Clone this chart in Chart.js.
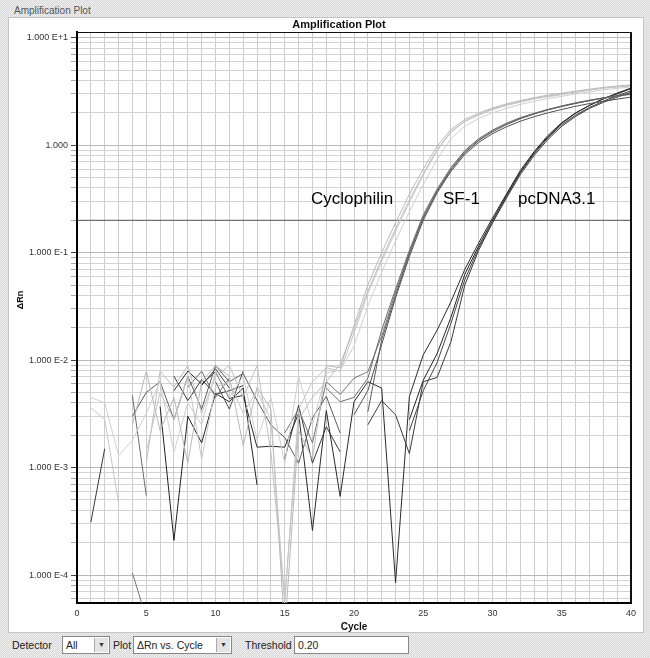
<!DOCTYPE html>
<html>
<head>
<meta charset="utf-8">
<title>Amplification Plot</title>
<script src="https://cdn.jsdelivr.net/npm/chart.js@4.4.0/dist/chart.umd.min.js"></script>
<style>
    html, body { margin: 0; padding: 0; }
    body {
        width: 650px; height: 658px; position: relative; overflow: hidden;
        font-family: "Liberation Sans", Arial, sans-serif;
        background: repeating-conic-gradient(#d6d6d6 0 25%, #f1f1f1 0 50%) 0 0 / 2px 2px;
    }
    #panelTitle { position: absolute; left: 14px; top: 5px; font-size: 10px; color: #555; }
    #panel { position: absolute; left: 8px; top: 17px; width: 634px; height: 614px; background: #fff; border: 1px solid #c4c4c4; }
    #chartBox { position: absolute; left: 0; top: 0; width: 650px; height: 633px; }
    .lbl { position: absolute; top: 639px; font-size: 10.5px; color: #222; }
    .box { position: absolute; top: 636px; height: 16px; background: #fff; border: 1px solid #888; font-size: 10.5px; line-height: 16px; color: #222; box-sizing: content-box; }
    .box span { padding-left: 3px; }
    .arrow { position: absolute; right: 1px; top: 1px; width: 13px; height: 14px; background: #e4e4e4; border-left: 1px solid #aaa; font-size: 7px; line-height: 14px; text-align: center; color: #333; }
</style>
</head>
<body>
<div id="panelTitle">Amplification Plot</div>
<div id="panel"></div>
<div id="chartBox"><canvas id="ampChart"></canvas></div>

<div class="lbl" style="left:12px;">Detector</div>
<div class="box" style="left:62px;width:46px;"><span>All</span><div class="arrow">▼</div></div>
<div class="lbl" style="left:113px;">Plot</div>
<div class="box" style="left:133px;width:97px;"><span>ΔRn vs. Cycle</span><div class="arrow">▼</div></div>
<div class="lbl" style="left:245px;">Threshold</div>
<div class="box" style="left:294px;width:113px;"><span>0.20</span></div>

<script>
// ---------------------------------------------------------------------------
// Data (ΔRn per cycle, log scale)
// null = negative / not drawable on the log axis
// ---------------------------------------------------------------------------
const cycles = [1, 2, 3, 4, 5, 6, 7, 8, 9, 10, 11, 12, 13, 14, 15, 16, 17, 18, 19, 20,
                21, 22, 23, 24, 25, 26, 27, 28, 29, 30, 31, 32, 33, 34, 35, 36, 37, 38, 39, 40];

const groupNames = ['Cyclophilin', 'SF-1', 'pcDNA3.1'];
const threshold = 0.20;

// Cyclophilin replicates
const cyclo1 = [0.0036, 0.0028, 0.00047, null, 0.0014, 0.005, 0.0028, 0.0071, 0.0012, 0.0056,
                0.0063, 0.0032, 0.0052, 0.0028, 0.000055, 0.0035, 0.0063, 0.0085, 0.0079, 0.0178,
                0.0417, 0.083, 0.158, 0.295, 0.525, 0.89, 1.32, 1.66, 1.9, 2.14,
                2.34, 2.51, 2.69, 2.82, 2.95, 3.09, 3.24, 3.39, 3.47, 3.55];
const cyclo2 = [null, null, null, 0.0025, 0.0079, 0.0022, 0.0045, 0.0011, 0.0063, 0.0089,
                0.0071, 0.0016, 0.0056, 0.0035, 0.00003, 0.0022, 0.0012, 0.0089, 0.0085, 0.021,
                0.05, 0.1, 0.19, 0.35, 0.6, 0.98, 1.4, 1.74, 1.99, 2.22,
                2.42, 2.6, 2.77, 2.92, 3.05, 3.18, 3.32, 3.45, 3.55, 3.64];
const cyclo3 = [0.0045, 0.004, 0.0013, 0.0018, 0.0032, 0.0063, 0.0014, 0.004, 0.0025, 0.0079,
                0.0045, 0.0071, 0.0018, 0.0045, 0.0011, 0.0071, 0.0025, 0.0076, 0.0081, 0.0135,
                0.032, 0.066, 0.128, 0.24, 0.43, 0.74, 1.15, 1.5, 1.77, 2.0,
                2.2, 2.39, 2.56, 2.71, 2.85, 2.99, 3.13, 3.27, 3.38, 3.48];
const cyclo4 = [null, null, null, null, 0.0011, 0.0079, 0.0056, 0.0089, 0.0032, 0.0071,
                0.0089, 0.0045, 0.0089, 0.0014, 0.00006, 0.0028, 0.0045, 0.0063, 0.0092, 0.0195,
                0.044, 0.088, 0.168, 0.31, 0.54, 0.91, 1.34, 1.68, 1.93, 2.17,
                2.37, 2.55, 2.72, 2.86, 2.99, 3.12, 3.27, 3.4, 3.5, 3.58];

// SF-1 replicates
const sf1a = [null, null, null, 0.003, 0.005, 0.0063, 0.0028, 0.0071, 0.0035, 0.0089,
              0.0063, 0.0075, 0.0042, 0.0025, 0.0019, 0.0011, 0.0029, 0.0046, 0.0021, null,
              0.0033, 0.0155, 0.04, 0.098, 0.21, 0.37, 0.59, 0.85, 1.1, 1.33,
              1.55, 1.76, 1.95, 2.13, 2.29, 2.45, 2.6, 2.75, 2.88, 3.0];
const sf1b = [null, null, null, 0.0047, 0.00055, null, null, 0.0056, 0.0079, 0.0045,
              0.0068, null, null, null, null, null, null, 0.0055, 0.0041, 0.0045,
              0.0068, 0.019, 0.046, 0.105, 0.225, 0.39, 0.62, 0.89, 1.15, 1.38,
              1.6, 1.8, 1.98, 2.15, 2.32, 2.48, 2.62, 2.76, 2.9, 3.02];
const sf1c = [null, null, null, null, null, null, null, null, null, 0.0063,
              0.0035, 0.0079, null, null, null, null, null, null, null, 0.0031,
              0.0052, 0.014, 0.038, 0.092, 0.2, 0.36, 0.57, 0.82, 1.06, 1.28,
              1.48, 1.67, 1.84, 2.0, 2.15, 2.3, 2.44, 2.56, 2.68, 2.8];
const sf1d = [null, null, null, 0.000105, 0.00004, null, null, null, null, null,
              null, null, null, null, 0.0021, 0.0035, 0.0017, 0.0063, 0.0048, 0.0068,
              0.0078, 0.0168, 0.043, 0.1, 0.215, 0.38, 0.6, 0.87, 1.12, 1.36,
              1.58, 1.78, 1.96, 2.14, 2.3, 2.45, 2.6, 2.73, 2.85, 2.97];

// pcDNA3.1 replicates
const pc1 = [null, null, null, null, null, null, 0.0052, 0.0079, 0.006, 0.0078,
             0.0044, 0.0047, 0.00155, 0.00158, 0.00155, 0.0032, 0.00026, 0.0034, 0.00054, 0.0041,
             0.0063, 0.0055, 0.000085, 0.0046, 0.0112, 0.019, 0.035, 0.07, 0.123, 0.21,
             0.35, 0.58, 0.87, 1.23, 1.62, 2.0, 2.34, 2.7, 3.0, 3.35];
const pc2 = [0.00031, 0.0015, null, null, null, null, 0.0071, 0.0042, 0.0066, 0.0048,
             0.0052, 0.0058, null, null, 0.0012, 0.0038, 0.0011, 0.0024, 0.0014, null,
             0.0025, 0.0042, 0.0031, 0.00135, 0.0063, 0.0069, 0.0148, 0.05, 0.105, 0.19,
             0.33, 0.55, 0.83, 1.17, 1.55, 1.9, 2.24, 2.57, 2.88, 3.2];
const pc3 = [null, null, null, null, null, 0.0037, 0.00021, 0.003, 0.0017, 0.0049,
             0.0041, 0.0055, 0.00069, null, null, null, null, null, null, null,
             null, null, null, 0.0028, 0.0065, 0.0115, 0.025, 0.063, 0.115, 0.2,
             0.34, 0.56, 0.85, 1.2, 1.6, 1.98, 2.35, 2.7, 3.05, 3.4];
const pc4 = [null, null, null, null, null, null, null, null, 0.0058, 0.0083,
             0.0055, null, null, null, null, null, null, null, null, null,
             null, null, null, 0.0022, 0.0052, 0.0095, 0.022, 0.056, 0.11, 0.19,
             0.32, 0.53, 0.8, 1.13, 1.5, 1.85, 2.2, 2.5, 2.8, 3.1];

// Axis ticks
const xTickLabels = [0, 5, 10, 15, 20, 25, 30, 35, 40];
const yDecades = [10, 1, 0.1, 0.01, 0.001, 0.0001];
const yTickLabels = ['1.000 E+1', '1.000', '1.000 E-1', '1.000 E-2', '1.000 E-3', '1.000 E-4'];
const yMin = 0.000055;
const yMax = 11.3;

// ---------------------------------------------------------------------------

const series = [
    { data: cyclo1, color: '#c6c6c6' },
    { data: cyclo2, color: '#b9b9b9' },
    { data: cyclo3, color: '#cfcfcf' },
    { data: cyclo4, color: '#bfbfbf' },
    { data: sf1a, color: '#5c5c5c' },
    { data: sf1b, color: '#6c6c6c' },
    { data: sf1c, color: '#505050' },
    { data: sf1d, color: '#767676' },
    { data: pc1, color: '#2a2a2a' },
    { data: pc2, color: '#3a3a3a' },
    { data: pc3, color: '#222222' },
    { data: pc4, color: '#444444' }
];

// minor log grid: 1..9 x 10^n within the axis range
const yGridValues = [];
for (let e = -5; e <= 1; e++) {
    for (let m = 1; m <= 9; m++) {
        const v = m * Math.pow(10, e);
        if (v >= yMin && v <= yMax) yGridValues.push(v);
    }
}

function decadeIndex(v) {
    return yDecades.findIndex(d => Math.abs(v / d - 1) < 1e-6);
}

const datasets = series.map(s => ({
    data: cycles.map((c, i) => ({ x: c, y: s.data[i] })),
    borderColor: s.color,
    borderWidth: 1,
    pointRadius: 0,
    tension: 0,
    spanGaps: false
}));

datasets.push({
    data: [{ x: 0, y: threshold }, { x: 40, y: threshold }],
    borderColor: '#555',
    borderWidth: 1,
    pointRadius: 0
});

const FONT = '"Liberation Sans", Arial, sans-serif';
Chart.defaults.font.family = FONT;

const decorPlugin = {
    id: 'decor',
    afterDraw(chart) {
        const { ctx, chartArea: a, scales: { x } } = chart;
        ctx.save();
        // top and right frame
        ctx.strokeStyle = '#111';
        ctx.lineWidth = 1;
        ctx.beginPath();
        ctx.moveTo(a.left, a.top + 0.5);
        ctx.lineTo(a.right, a.top + 0.5);
        ctx.stroke();
        ctx.lineWidth = 2;
        ctx.beginPath();
        ctx.moveTo(a.right, a.top);
        ctx.lineTo(a.right, a.bottom);
        ctx.stroke();

        ctx.fillStyle = '#111';
        ctx.textBaseline = 'middle';
        ctx.textAlign = 'center';
        ctx.font = 'bold 11px ' + FONT;
        ctx.fillText('Amplification Plot', 339, 25);
        ctx.font = 'bold 10px ' + FONT;
        ctx.fillText('Cycle', x.getPixelForValue(20), 627);

        ctx.save();
        ctx.translate(21, 300);
        ctx.rotate(-Math.PI / 2);
        ctx.font = 'bold 9px ' + FONT;
        ctx.fillText('ΔRn', 0, 0);
        ctx.restore();

        // group labels
        ctx.font = '17px ' + FONT;
        ctx.textAlign = 'left';
        ctx.textBaseline = 'alphabetic';
        ctx.fillStyle = '#000';
        const labelX = [311, 443, 518];
        groupNames.forEach((name, i) => ctx.fillText(name, labelX[i], 204));
        ctx.restore();
    }
};

new Chart(document.getElementById('ampChart'), {
    type: 'line',
    data: { datasets },
    options: {
        responsive: true,
        maintainAspectRatio: false,
        animation: false,
        layout: { padding: { top: 32, right: 19, left: 0, bottom: 0 } },
        plugins: { legend: { display: false }, tooltip: { enabled: false } },
        scales: {
            x: {
                type: 'linear',
                min: 0,
                max: 40,
                afterFit: s => { s.height = 30; },
                ticks: {
                    stepSize: 1,
                    autoSkip: false,
                    maxRotation: 0,
                    padding: 5,
                    color: '#333',
                    font: { size: 9 },
                    callback: v => xTickLabels.includes(v) ? String(v) : ''
                },
                grid: { color: '#cdcdcd', drawTicks: false },
                border: { display: true, color: '#000', width: 2 }
            },
            y: {
                type: 'logarithmic',
                min: yMin,
                max: yMax,
                afterFit: s => { s.width = 77; },
                afterBuildTicks: s => { s.ticks = yGridValues.map(v => ({ value: v })); },
                ticks: {
                    autoSkip: false,
                    padding: 3,
                    color: '#333',
                    font: { size: 9 },
                    callback: v => {
                        const i = decadeIndex(v);
                        return i >= 0 ? yTickLabels[i] : '';
                    }
                },
                grid: {
                    color: c => decadeIndex(c.tick.value) >= 0 ? '#b8b8b8' : '#d3d3d3',
                    tickColor: c => decadeIndex(c.tick.value) >= 0 ? '#444' : '#aaa',
                    tickLength: 6
                },
                border: { display: true, color: '#000', width: 2 }
            }
        }
    },
    plugins: [decorPlugin]
});
</script>
</body>
</html>
